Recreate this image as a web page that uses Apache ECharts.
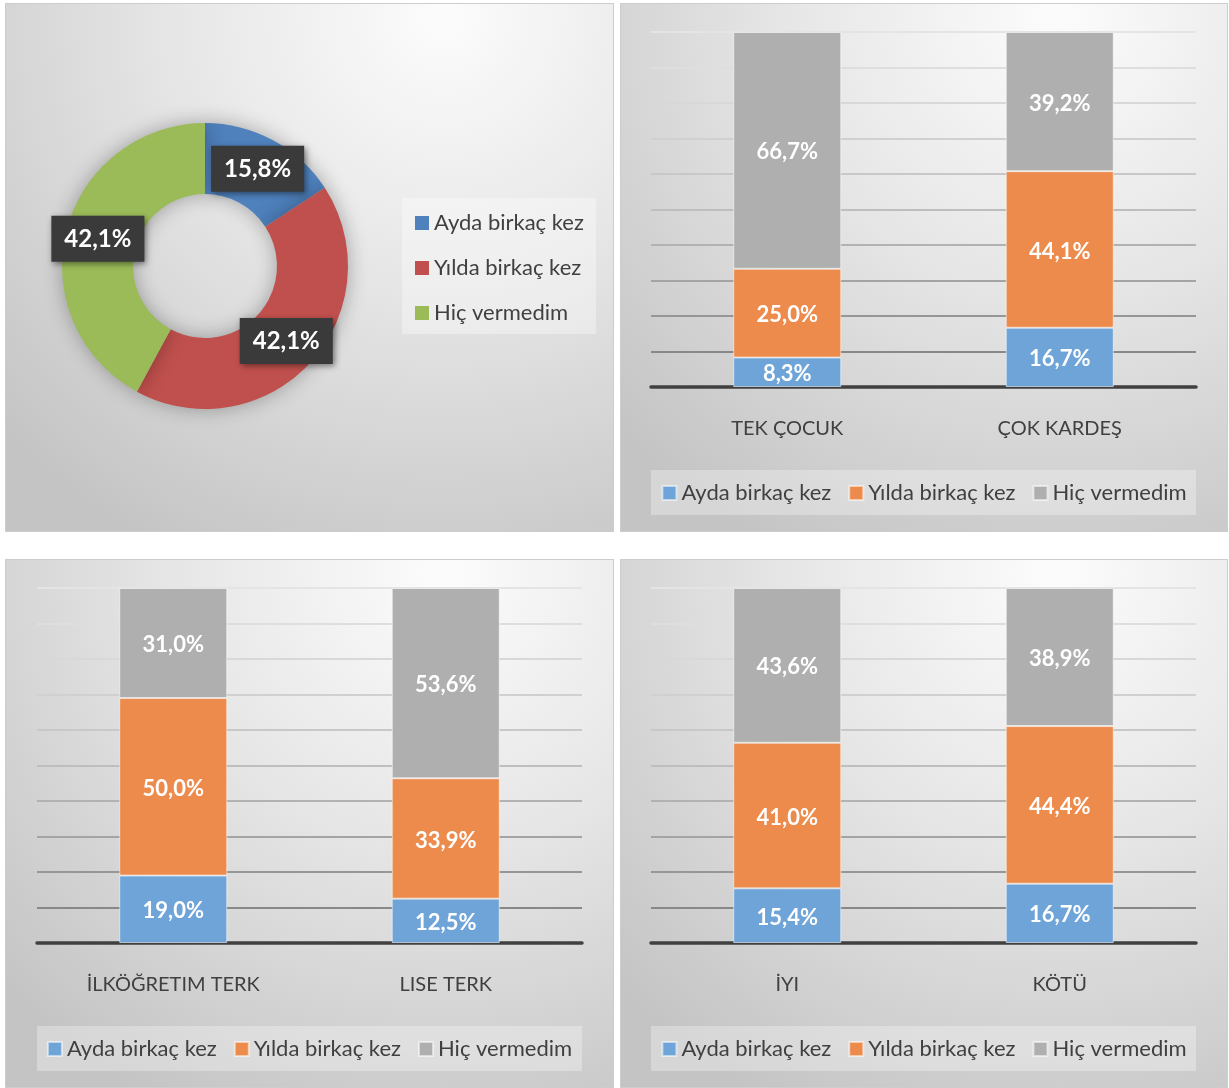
<!DOCTYPE html>
<html>
<head>
<meta charset="utf-8">
<script src="https://cdn.jsdelivr.net/npm/echarts@6/dist/echarts.min.js"></script>
<style>
  html, body { margin: 0; padding: 0; background: #fff; }
  .panel { position: absolute; box-sizing: border-box; border: 1px solid #cdcdcd; }
</style>
</head>
<body>
<div id="donut" class="panel" style="left:5px;top:3px;width:609px;height:529px"></div>
<div id="sibling" class="panel" style="left:620px;top:3px;width:608px;height:529px"></div>
<div id="education" class="panel" style="left:5px;top:559px;width:609px;height:529px"></div>
<div id="relation" class="panel" style="left:620px;top:559px;width:608px;height:529px"></div>

<script>
// legend / series names
const seriesNames = ['Ayda birkaç kez', 'Yılda birkaç kez', 'Hiç vermedim']

// donut (overall)
const donutValues = [15.8, 42.1, 42.1]

// TEK ÇOCUK / ÇOK KARDEŞ
const siblingCats = ['TEK ÇOCUK', 'ÇOK KARDEŞ']
const siblingAyda = [8.3, 16.7]
const siblingYilda = [25.0, 44.1]
const siblingHic = [66.7, 39.2]

// education
const educationCats = ['İLKÖĞRETIM TERK', 'LISE TERK']
const educationAyda = [19.0, 12.5]
const educationYilda = [50.0, 33.9]
const educationHic = [31.0, 53.6]

// relation
const relationCats = ['İYI', 'KÖTÜ']
const relationAyda = [15.4, 16.7]
const relationYilda = [41.0, 44.4]
const relationHic = [43.6, 38.9]

const FONT = 'Lato, "Open Sans", sans-serif'
const donutColors = ['#4f81bd', '#c0504d', '#9bbb59']
const barColors = ['#6ea4d7', '#ec8b4b', '#afafaf']
// split lines get darker towards the bottom (index 0 = value 0)
const splitColors = ['#7c7c7c', '#888888', '#969696', '#a4a4a4', '#b2b2b2', '#bebebe',
  '#c8c8c8', '#d0d0d0', '#d8d8d8', '#dedede', '#e4e4e4']

function fmt(v) { // 15.8 -> 15,8%
  return v.toFixed(1).replace('.', ',') + '%'
}

function panelBg() {
  return {
    type: 'radial', x: 0.72, y: 0.02, r: 1.15,
    colorStops: [
      { offset: 0, color: '#fcfcfc' },
      { offset: 0.45, color: '#e6e6e6' },
      { offset: 1, color: '#c4c4c4' }
    ]
  }
}

function initDonut() {
  const chart = echarts.init(document.getElementById('donut'))
  chart.setOption({
    animation: false,
    backgroundColor: panelBg(),
    color: donutColors,
    graphic: [{
      type: 'rect', z: 0,
      shape: { x: 396, y: 194, width: 194, height: 136 },
      style: { fill: 'rgba(255,255,255,0.35)' }
    }],
    legend: {
      orient: 'vertical',
      left: 404,
      top: 203,
      icon: 'rect',
      itemWidth: 14,
      itemHeight: 14,
      itemGap: 23,
      textStyle: { fontFamily: FONT, fontSize: 22, color: '#404040' },
      data: seriesNames
    },
    series: [{
      type: 'pie',
      radius: [72, 143],
      center: [199, 262],
      startAngle: 90,
      clockwise: true,
      avoidLabelOverlap: false,
      emphasis: { disabled: true },
      itemStyle: {
        shadowBlur: 20,
        shadowColor: 'rgba(0,0,0,0.3)'
      },
      label: {
        show: true,
        position: 'inside',
        formatter(p) {
          return fmt(p.value)
        },
        fontFamily: FONT,
        fontSize: 24,
        fontWeight: 'bold',
        color: '#fff',
        backgroundColor: '#3a3a3a',
        padding: [12, 13, 10, 13],
        shadowBlur: 6,
        shadowOffsetX: 2,
        shadowOffsetY: 2,
        shadowColor: 'rgba(0,0,0,0.45)'
      },
      labelLine: { show: false },
      data: seriesNames.map((n, i) => ({ name: n, value: donutValues[i] }))
    }]
  })
}

function initBars(id, cats, ayda, yilda, hic, gridLeft) {
  const chart = echarts.init(document.getElementById(id))
  const values = [ayda, yilda, hic]
  chart.setOption({
    animation: false,
    backgroundColor: panelBg(),
    color: barColors,
    graphic: [{
      type: 'rect', z: 0,
      shape: { x: gridLeft, y: 466, width: 545, height: 45 },
      style: { fill: 'rgba(255,255,255,0.3)' }
    }],
    grid: { left: gridLeft, width: 545, top: 28, height: 355 },
    legend: {
      left: 'center',
      top: 473,
      icon: 'rect',
      itemWidth: 14,
      itemHeight: 14,
      itemGap: 17,
      textStyle: { fontFamily: FONT, fontSize: 22, color: '#404040' },
      data: seriesNames
    },
    xAxis: {
      type: 'category',
      data: cats,
      axisLine: { lineStyle: { color: '#404040', width: 3.5 } },
      axisTick: { show: false },
      axisLabel: {
        margin: 32,
        fontFamily: FONT,
        fontSize: 20,
        color: '#404040'
      }
    },
    yAxis: {
      type: 'value',
      min: 0,
      max: 100,
      interval: 10,
      axisLabel: { show: false },
      axisLine: { show: false },
      axisTick: { show: false },
      splitLine: { lineStyle: { color: splitColors, width: 2 } }
    },
    series: seriesNames.map((n, i) => ({
      name: n,
      type: 'bar',
      stack: 'total',
      barWidth: 108,
      itemStyle: { borderColor: 'rgba(255,255,255,0.55)', borderWidth: 1 },
      emphasis: { disabled: true },
      label: {
        show: true,
        position: 'inside',
        offset: [0, 2],
        fontFamily: FONT,
        fontSize: 22,
        fontWeight: 'bold',
        color: '#fff',
        formatter(p) {
          return fmt(p.value)
        }
      },
      data: values[i]
    }))
  })
}

initDonut()
initBars('sibling', siblingCats, siblingAyda, siblingYilda, siblingHic, 30)
initBars('education', educationCats, educationAyda, educationYilda, educationHic, 31)
initBars('relation', relationCats, relationAyda, relationYilda, relationHic, 30)
</script>
</body>
</html>
